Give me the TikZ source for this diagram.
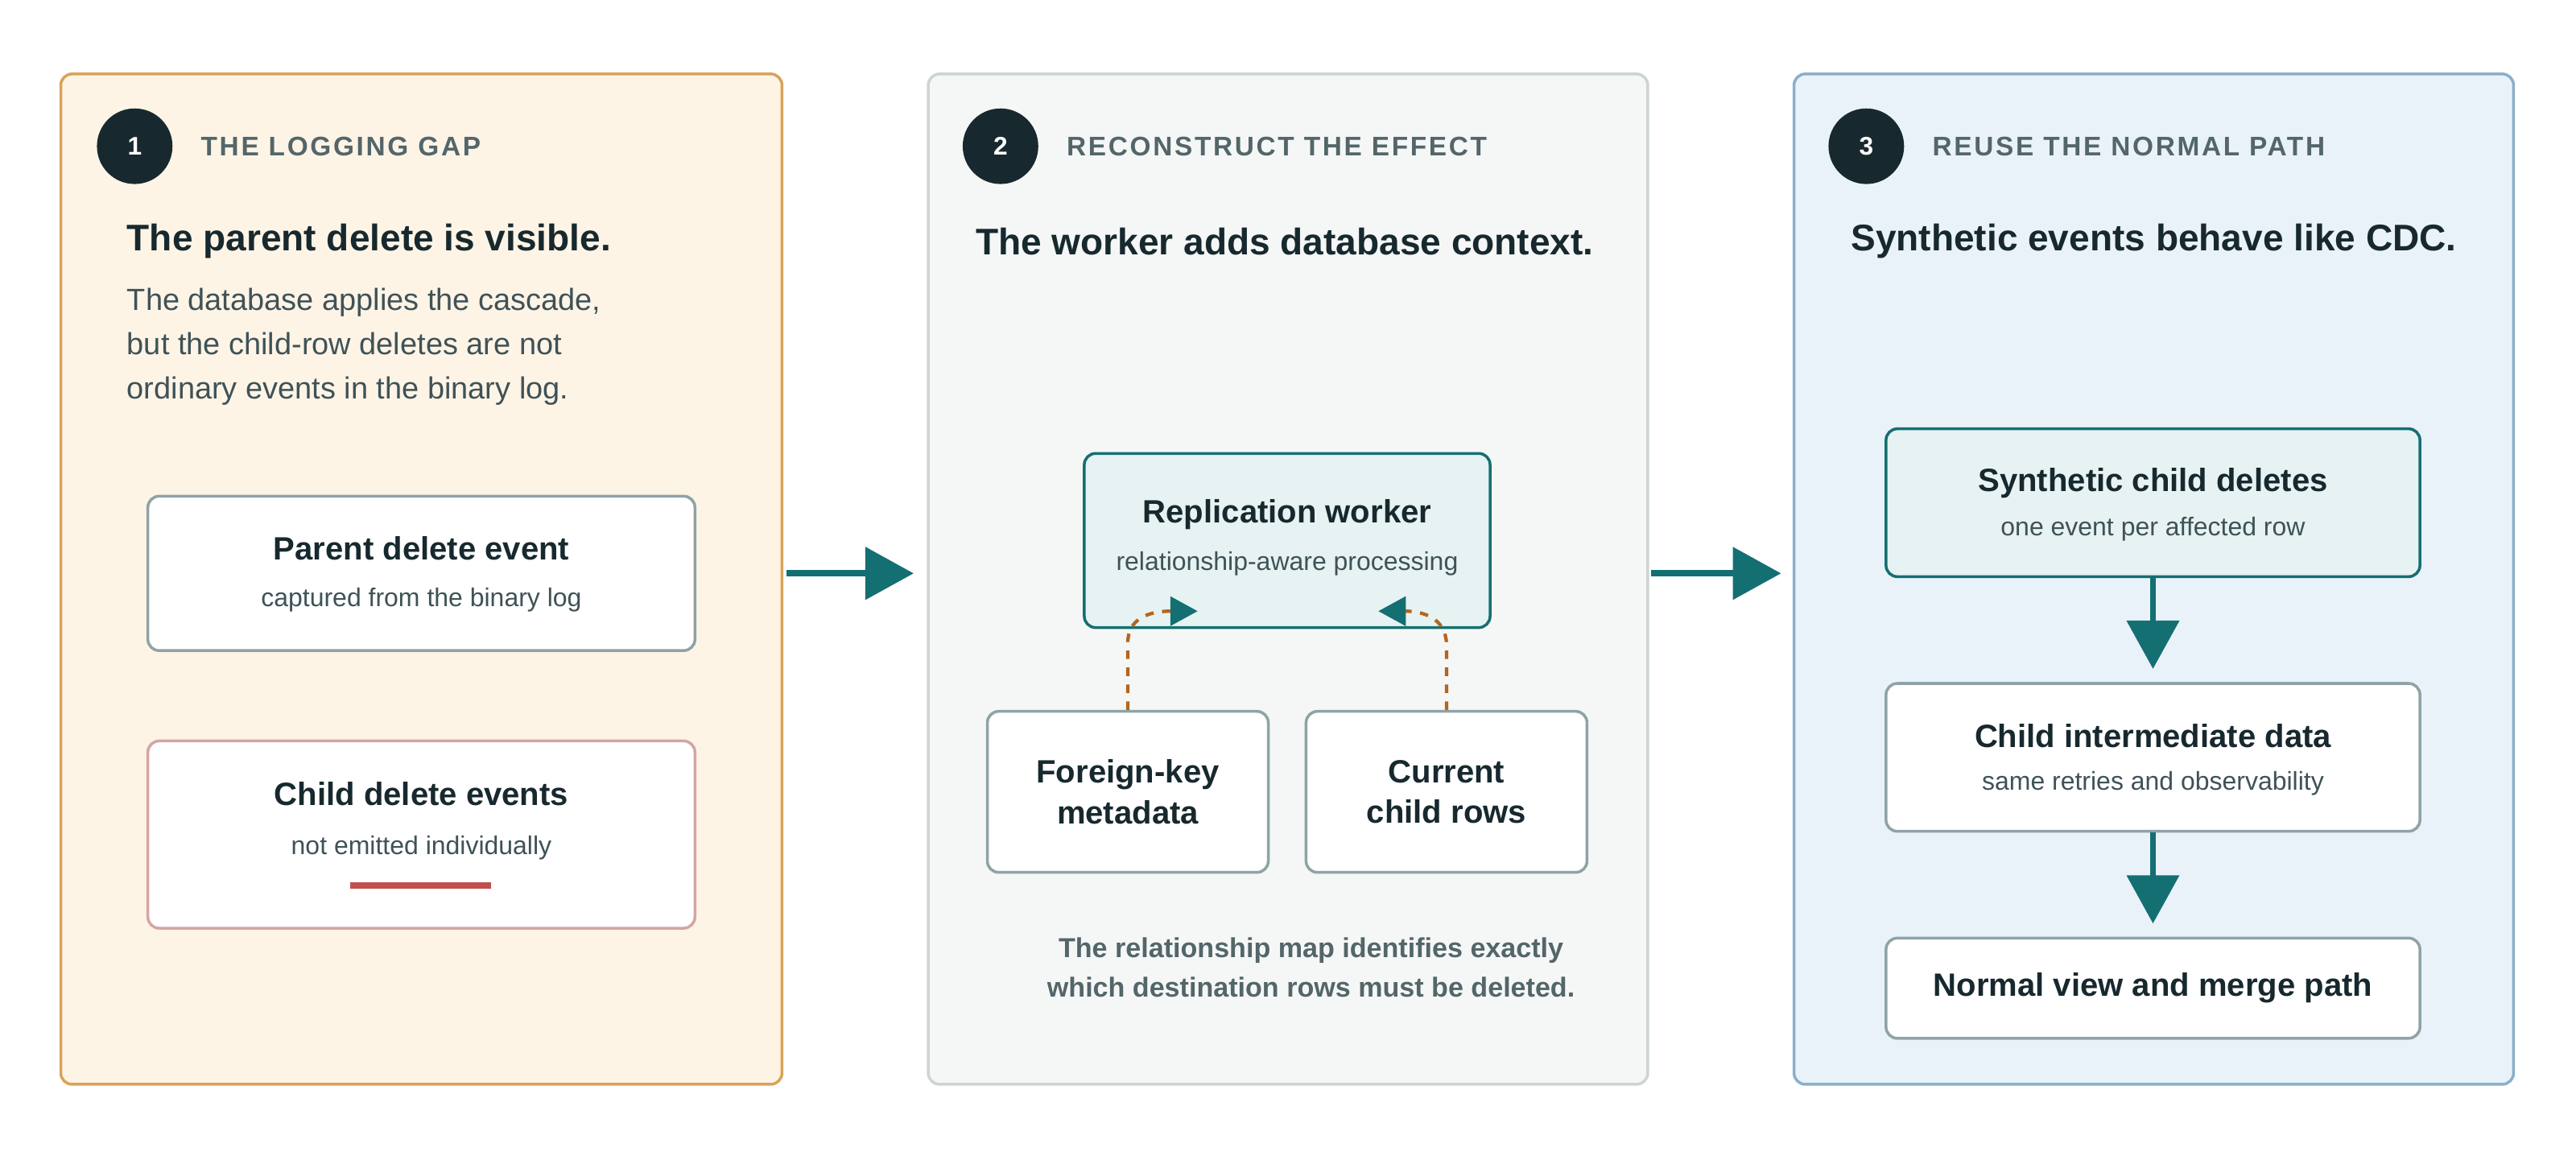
\documentclass[tikz,border=0pt]{standalone}
\usepackage{fontspec}
\setmainfont{Liberation Sans}
\usetikzlibrary{positioning,arrows.meta,calc}

\definecolor{ink}{HTML}{17292E}
\definecolor{muted}{HTML}{53666A}
\definecolor{bodytxt}{HTML}{3F5257}
\definecolor{tealc}{HTML}{146F73}
\definecolor{tealbg}{HTML}{E6F3F2}
\definecolor{orbg}{HTML}{FEF4E6}
\definecolor{orline}{HTML}{D9A35A}
\definecolor{grbg}{HTML}{F5F7F6}
\definecolor{grline}{HTML}{CCD5D3}
\definecolor{blbg}{HTML}{EAF2F9}
\definecolor{blline}{HTML}{8AAFCB}
\definecolor{boxline}{HTML}{8FA3A6}
\definecolor{redline}{HTML}{D4A5A5}
\definecolor{redmark}{HTML}{C0504D}
\definecolor{feedc}{HTML}{B5651D}

\tikzset{
  panel/.style = {draw, line width=1pt, rounded corners=4pt, minimum height=615*0.2041mm},
  badge/.style = {circle, fill=ink, text=white, minimum size=46*0.2041mm, inner sep=0pt, font=\fontsize{9}{9}\selectfont\bfseries},
  head/.style = {anchor=west, inner sep=0pt, text=muted, font=\fontsize{9.5}{10}\selectfont\bfseries\addfontfeature{LetterSpace=8}},
  title/.style = {text=ink, font=\fontsize{13.1}{15}\selectfont\bfseries},
  card/.style = {draw=boxline, fill=white, line width=1pt, rounded corners=4pt, align=center, text=ink},
  hot/.style = {card, draw=tealc, fill=tealbg},
  cardt/.style = {font=\fontsize{11.4}{14.5}\selectfont\bfseries, text=ink},
  cards/.style = {font=\fontsize{9.1}{10}\selectfont, text=bodytxt},
  flow/.style = {draw=tealc, line width=2.2pt, -{Triangle[length=6mm,width=6.4mm,fill=tealc]}},
  feed/.style = {draw=feedc, line width=1.2pt, dashed, -{Triangle[length=3.4mm,width=3.6mm,color=tealc,fill=tealc,sharp]}}
}

\begin{document}
\begin{tikzpicture}[x=0.2041mm, y=-0.2041mm]
\useasboundingbox[fill=white] (0,0) rectangle (1568,706);

% panels
\node[panel, fill=orbg, draw=orline, minimum width=439*0.2041mm] (p1) at (256.5,352.5) {};
\node[panel, fill=grbg, draw=grline, minimum width=438*0.2041mm] (p2) at (784,352.5) {};
\node[panel, fill=blbg, draw=blline, minimum width=438*0.2041mm] (p3) at (1311,352.5) {};

% panel 1
\node[badge] (s1) at (82,89) {1};
\node[head] (h1) at (122,89) {THE LOGGING GAP};
\node[title, anchor=west, inner sep=0pt] (t1) at (77,147) {The parent delete is visible.};
\node[anchor=north west, text=bodytxt, align=left, inner sep=0pt,
      font=\fontsize{10.8}{15.7}\selectfont] (d1) at (77,175)
  {The database applies the cascade,\\but the child-row deletes are not\\ordinary events in the binary log.};
\node[card, minimum width=333*0.2041mm, minimum height=94*0.2041mm] (parent) at (256.5,349) {};
\node[cardt] at (256.5,334) {Parent delete event};
\node[cards] at (256.5,365) {captured from the binary log};
\node[card, draw=redline, minimum width=333*0.2041mm, minimum height=114*0.2041mm] (child) at (256.5,508) {};
\node[cardt] at (256.5,483) {Child delete events};
\node[cards] (miss) at (256.5,516) {not emitted individually};
\draw[redmark, line width=2.2pt] (213,539) -- (299,539);

% panel 2
\node[badge] (s2) at (609,89) {2};
\node[head] (h2) at (649,89) {RECONSTRUCT THE EFFECT};
\node[title] (t2) at (782,147) {The worker adds database context.};
\node[hot, minimum width=247*0.2041mm, minimum height=106*0.2041mm] (worker) at (783.5,329) {};
\node[cardt] at (783.5,313) {Replication worker};
\node[cards] at (783.5,343) {relationship-aware processing};
\node[card, minimum width=171*0.2041mm, minimum height=98*0.2041mm, cardt] (fk) at (686.5,482) {Foreign-key\\metadata};
\node[card, minimum width=171*0.2041mm, minimum height=98*0.2041mm, cardt] (rows) at (880.5,482) {Current\\child rows};
\coordinate (in1) at (729,372);
\coordinate (in2) at (839,372);
\draw[feed] (fk.north) -- ++(0,-40) .. controls (686,376) and (700,372) .. (in1);
\draw[feed] (rows.north) -- ++(0,-40) .. controls (880,376) and (866,372) .. (in2);
\node[text=muted, align=center, font=\fontsize{9.7}{13.9}\selectfont\bfseries] (note) at (798,589)
  {The relationship map identifies exactly\\which destination rows must be deleted.};

% panel 3
\node[badge] (s3) at (1136,89) {3};
\node[head] (h3) at (1176,89) {REUSE THE NORMAL PATH};
\node[title] (t3) at (1311,147) {Synthetic events behave like CDC.};
\node[hot, minimum width=325*0.2041mm, minimum height=90*0.2041mm] (synth) at (1310.5,306) {};
\node[cardt] at (1310.5,294) {Synthetic child deletes};
\node[cards] at (1310.5,322) {one event per affected row};
\node[card, minimum width=325*0.2041mm, minimum height=90*0.2041mm] (inter) at (1310.5,461) {};
\node[cardt] at (1310.5,448) {Child intermediate data};
\node[cards] at (1310.5,477) {same retries and observability};
\node[card, minimum width=325*0.2041mm, minimum height=61*0.2041mm, cardt] (merge) at (1310.5,601.5) {Normal view and merge path};

% flow
\draw[flow, shorten <=2*0.2041mm, shorten >=8*0.2041mm] (p1.east |- parent.east) -- (p2.west |- parent.east);
\draw[flow, shorten <=1*0.2041mm, shorten >=7*0.2041mm] (p2.east |- parent.east) -- (p3.west |- parent.east);
\draw[flow, shorten >=8*0.2041mm] (synth) -- (inter);
\draw[flow, shorten >=8*0.2041mm] (inter) -- (merge);
\end{tikzpicture}
\end{document}
